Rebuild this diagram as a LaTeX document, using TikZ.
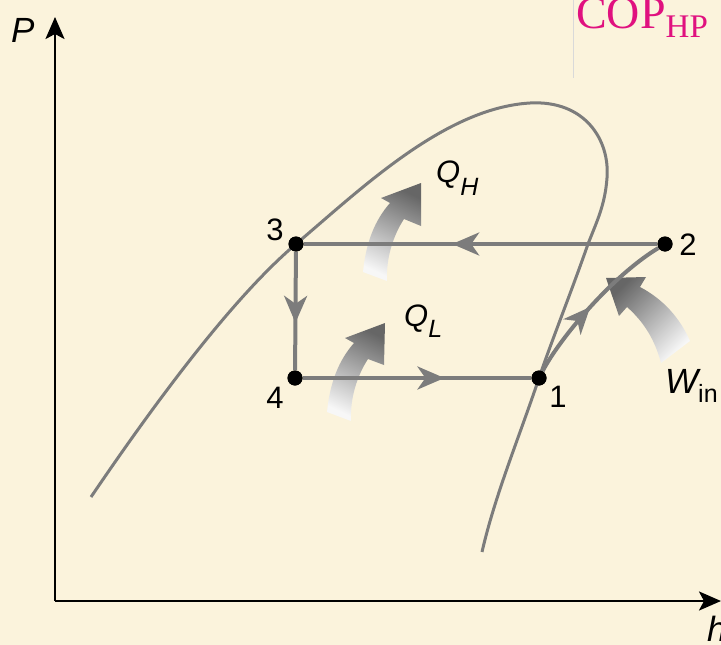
\documentclass[tikz,border=0pt]{standalone}
\usepackage{fontspec}
\setmainfont{Liberation Sans}
\newfontfamily\copfont{Liberation Serif}
\usepackage{tikz}
\usetikzlibrary{arrows.meta, decorations.markings}
\definecolor{Parchment}{HTML}{FBF3DC}
\definecolor{Curve}    {HTML}{7C7C7C}
\definecolor{Magenta}  {HTML}{E0117F}
\newcommand{\subsz}{\fontsize{25}{28}\selectfont}
\tikzset{
  axis arrow/.style={-{Stealth[length=22pt,width=19pt,inset=5pt]}, line width=2.6pt},
  flow arrow/.style={Curve, line width=4pt, postaction={decorate},
    decoration={markings, mark=at position #1 with
      {\arrow{Stealth[length=27pt,width=23pt,inset=8pt]}}}},
  heat arrow/.style={draw=none, top color=black!60, bottom color=black!3,
    shading angle=#1},
}

\begin{document}
\begin{tikzpicture}[x=1pt, y=-1pt,
    state/.style={circle, fill=black, inner sep=0pt, minimum size=15pt},
    lbl/.style={inner sep=0pt, font=\fontsize{31}{34}\selectfont},
    dome/.style={Curve, line width=3pt}]
  \clip (0,0) rectangle (721,645);
  \fill[Parchment] (0,0) rectangle (721,645);
  \draw[black!15, line width=0.8pt] (573,0) -- (573,78);
  % Axes
  \coordinate (O)    at (55,601);
  \coordinate (ymax) at (55,17);
  \coordinate (xmax) at (721,601);
  \draw[axis arrow] (O) -- (ymax);
  \draw[axis arrow] (O) -- (xmax);
  \node[lbl, anchor=base west, font=\fontsize{35}{38}\selectfont\itshape] (P) at (11,42) {P};
  \node[lbl, anchor=base west, font=\fontsize{35}{38}\selectfont\itshape] (h) at (707,641) {h};
  % Saturation dome
  \draw[dome] (91,497) .. controls (150,410) and (230,300) .. (296,244)
    .. controls (362,188) and (445,108) .. (530,103)
    .. controls (585,100) and (610,140) .. (607,178)
    .. controls (605,205) and (597,221) .. (588,244)
    .. controls (572,290) and (552,340) .. (539,378)
    .. controls (520,435) and (495,495) .. (482,552);
  % Heat and work arrows
  \shade[heat arrow=-25] (363,272) .. controls (366,242) and (375,220) .. (390,203)
    -- (381,198) -- (421,183) -- (421,226) -- (404,219)
    .. controls (393,236) and (386,258) .. (387,281) -- cycle;
  \shade[heat arrow=-25] (327,412) .. controls (330,382) and (339,360) .. (354,343)
    -- (345,338) -- (385,323) -- (384,365) -- (368,359)
    .. controls (357,376) and (350,398) .. (351,421) -- cycle;
  \shade[heat arrow=45] (606,278) -- (619,316) -- (627,307)
    .. controls (644,322) and (655,340) .. (661,363) -- (690,341)
    .. controls (680,318) and (663,299) .. (640,287) -- (646,277) -- cycle;
  % States
  \node[state] (p1) at (539,378) {};
  \node[state] (p2) at (665,244) {};
  \node[state] (p3) at (296,244) {};
  \node[state] (p4) at (295,378) {};
  % Cycle
  \draw[flow arrow=0.58] (p2) -- (p3);
  \draw[flow arrow=0.6]  (p3) -- (p4);
  \draw[flow arrow=0.62] (p4) -- (p1);
  \draw[flow arrow=0.47] (p1) .. controls (560,338) and (612,276) .. (p2);
  \node[state] at (p1) {};
  \node[state] at (p2) {};
  \node[state] at (p3) {};
  \node[state] at (p4) {};
  % Labels
  \node[lbl, anchor=base] (n1) at (558,407) {1};
  \node[lbl, anchor=base] (n2) at (688,255) {2};
  \node[lbl, anchor=base] (n3) at (275,240) {3};
  \node[lbl, anchor=base] (n4) at (275,408) {4};
  \node[lbl, anchor=base west] (qh) at (436,182) {\itshape Q\raisebox{-13pt}{\subsz H}};
  \node[lbl, anchor=base west] (ql) at (404,326) {\itshape Q\raisebox{-11pt}{\subsz L}};
  \node[lbl, anchor=base west, font=\fontsize{35}{38}\selectfont] (win) at (665,393)
    {\itshape W\raisebox{-9pt}{\subsz\upshape in}};
  \node[anchor=base west, inner sep=0pt, text=Magenta,
        font=\copfont\fontsize{46}{50}\selectfont] (cop) at (576,28)
    {COP\raisebox{-9pt}{\fontsize{33}{36}\selectfont HP}};
\end{tikzpicture}
\end{document}
